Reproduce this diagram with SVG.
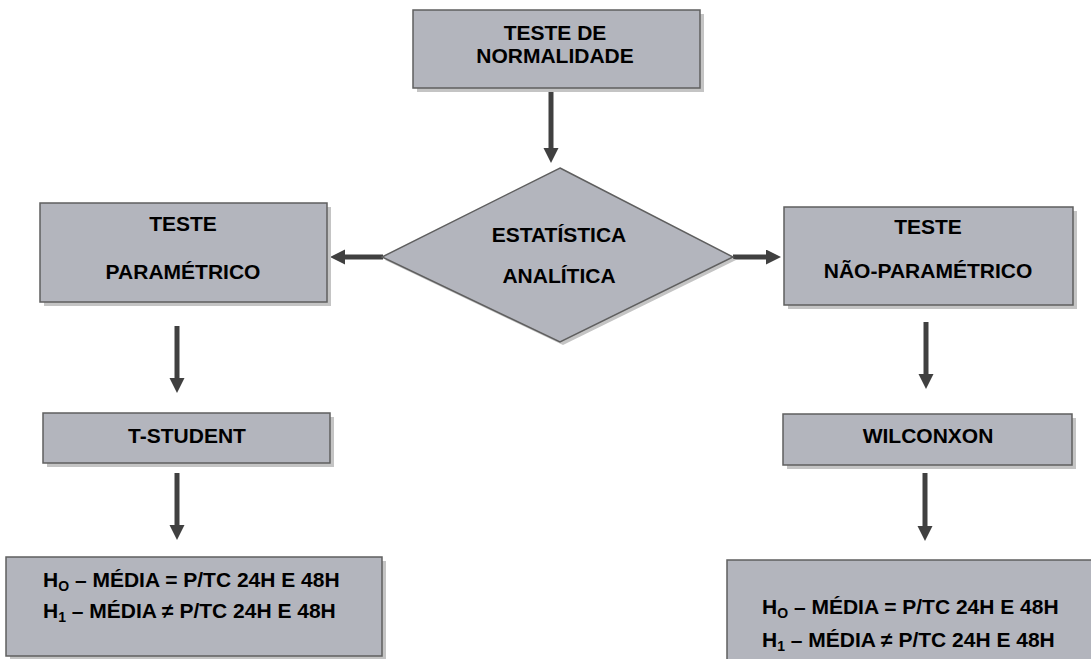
<svg xmlns="http://www.w3.org/2000/svg" width="1091" height="659" viewBox="0 0 1091 659">
<defs>
<style>
.box{fill:#b3b5bd;stroke:#5f5f5f;stroke-width:1.5}
.sh{fill:#c4c4c4}
.t{font-family:"Liberation Sans",Arial,sans-serif;font-weight:bold;font-size:21px;fill:#000;text-anchor:middle}
.tl{font-family:"Liberation Sans",Arial,sans-serif;font-weight:bold;font-size:21px;fill:#000}
.sub{font-size:14px}
.ar{stroke:#404040;stroke-width:5;fill:none;marker-end:url(#ah)}
</style>
<marker id="ah" markerUnits="userSpaceOnUse" markerWidth="16" markerHeight="16" refX="0" refY="7.5" orient="auto">
<path d="M0,0 L15,7.5 L0,15 Z" fill="#404040"/>
</marker>
</defs>
<rect width="1091" height="659" fill="#fff"/>
<g id="connectors">
<line class="ar" x1="551" y1="92" x2="551" y2="148"/>
<line class="ar" x1="383" y1="257" x2="345" y2="257"/>
<line class="ar" x1="733" y1="257" x2="766" y2="257"/>
<line class="ar" x1="177" y1="326" x2="177" y2="378"/>
<line class="ar" x1="926" y1="322" x2="926" y2="374"/>
<line class="ar" x1="177" y1="473" x2="177" y2="525"/>
<line class="ar" x1="925" y1="473" x2="925" y2="526"/>
</g>
<g id="normalidade">
<rect class="sh" x="417" y="14" width="287" height="78"/>
<rect class="box" x="413" y="10" width="287" height="78"/>
<text class="t" x="555" y="40">TESTE DE</text>
<text class="t" x="555" y="63">NORMALIDADE</text>
</g>
<g id="estatistica">
<polygon class="sh" points="563,171 736,260 563,345 385,260"/>
<polygon class="box" points="560,168 733,257 560,342 382,257"/>
<text class="t" x="559" y="242">ESTATÍSTICA</text>
<text class="t" x="559" y="283">ANALÍTICA</text>
</g>
<g id="parametrico">
<rect class="sh" x="44" y="207" width="287" height="99"/>
<rect class="box" x="40" y="203" width="287" height="99"/>
<text class="t" x="183" y="231">TESTE</text>
<text class="t" x="183" y="279">PARAMÉTRICO</text>
</g>
<g id="nao-parametrico">
<rect class="sh" x="788" y="211" width="289" height="98"/>
<rect class="box" x="784" y="207" width="289" height="98"/>
<text class="t" x="928" y="234">TESTE</text>
<text class="t" x="928" y="278">NÃO-PARAMÉTRICO</text>
</g>
<g id="t-student">
<rect class="sh" x="47" y="417" width="287" height="50"/>
<rect class="box" x="43" y="413" width="287" height="50"/>
<text class="t" x="187" y="443">T-STUDENT</text>
</g>
<g id="wilconxon">
<rect class="sh" x="787" y="418" width="289" height="51"/>
<rect class="box" x="783" y="414" width="289" height="51"/>
<text class="t" x="928" y="443">WILCONXON</text>
</g>
<g id="hipoteses-t">
<rect class="sh" x="10" y="561" width="376" height="100"/>
<rect class="box" x="6" y="557" width="376" height="99"/>
<text class="tl" x="43" y="587">H<tspan class="sub" dy="4">O</tspan><tspan dy="-4"> – MÉDIA = P/TC 24H E 48H</tspan></text>
<text class="tl" x="43" y="618">H<tspan class="sub" dy="4">1</tspan><tspan dy="-4"> – MÉDIA ≠ P/TC 24H E 48H</tspan></text>
</g>
<g id="hipoteses-w">
<rect class="sh" x="731" y="564" width="380" height="110"/>
<rect class="box" x="727" y="560" width="380" height="110"/>
<text class="tl" x="762" y="614">H<tspan class="sub" dy="4">O</tspan><tspan dy="-4"> – MÉDIA = P/TC 24H E 48H</tspan></text>
<text class="tl" x="762" y="647">H<tspan class="sub" dy="4">1</tspan><tspan dy="-4"> – MÉDIA ≠ P/TC 24H E 48H</tspan></text>
</g>
</svg>
